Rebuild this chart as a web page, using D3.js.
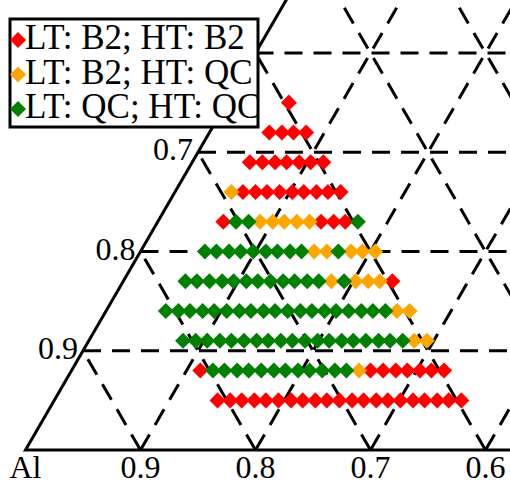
<!DOCTYPE html>
<html>
<head>
<meta charset="utf-8">
<script src="https://cdn.jsdelivr.net/npm/d3@7"></script>
<style>
  body { margin: 0; background: #fff; }
  svg { display: block; }
  text { font-family: "Liberation Serif", "Times New Roman", serif; }
</style>
</head>
<body>
<div id="chart"></div>
<script>
// chart size
var width = 510;
var height = 482;

// Al content of the sampled compositions (shared by every row)
var alValues = [0.808, 0.797, 0.787, 0.776, 0.766, 0.755, 0.744, 0.734, 0.723, 0.713, 0.702,
                0.691, 0.681, 0.670, 0.660, 0.649, 0.638, 0.628, 0.617, 0.607, 0.596];
// third element fraction of each row
var thirdValues = [0.05, 0.08, 0.11, 0.14, 0.17, 0.20, 0.23, 0.26, 0.29, 0.32, 0.35];
// phase class per row and Al value (R = B2/B2, O = B2/QC, G = QC/QC, . = none)
var phaseRows = [
  "RRRRRRRRRRRRRRRRRRRRR",
  "RGGGGGGGGGGGGORRRRRRR",
  "GGGGGGGGGGGGGGGGGGGOO",
  "GGGGGGGGGGGGGGGGGGGOO",
  "...GGGGGGGGGGGGOGOOOR",
  "......GGGGGGGGGOOGOOO",
  ".........RGGOOOOORRRG",
  "...........ORRRRRRRRR",
  "..............RRRRRRR",
  ".................RRRR",
  "....................R"
];
var seriesCodes = ["R", "O", "G"];
var seriesNames = ["LT: B2; HT: B2", "LT: B2; HT: QC", "LT: QC; HT: QC"];
var seriesColors = ["#ff0000", "#ffa500", "#008000"];

// grid / tick values
var gridValues = [0.1, 0.2, 0.3, 0.4, 0.5, 0.6, 0.7, 0.8, 0.9];
var bottomTicks = [0.9, 0.8, 0.7, 0.6];
var leftTicks = [0.9, 0.8, 0.7];

// ternary -> cartesian scales (u = b + c/2, along bottom ; c = height)
var x = d3.scaleLinear().domain([0, 1]).range([25.5, 25.5 + 1150]);
var y = d3.scaleLinear().domain([0, 1]).range([450, 450 - 992.5]);

function px(b, c) { return x(b + c / 2); }
function py(c) { return y(c); }

var svg = d3.select('#chart')
  .append('svg')
  .attr('width', width)
  .attr('height', height);

// dashed grid
var gridLines = [];
gridValues.forEach(function(v) {
  gridLines.push([[0, v], [1 - v, v]]);   // constant third element
  gridLines.push([[v, 0], [v, 1 - v]]);   // constant second element
  gridLines.push([[v, 0], [0, v]]);       // constant Al
});

svg.append('g')
  .selectAll('line')
  .data(gridLines)
  .enter()
  .append('line')
    .attr('x1', function(d) { return px(d[0][0], d[0][1]); })
    .attr('y1', function(d) { return py(d[0][1]); })
    .attr('x2', function(d) { return px(d[1][0], d[1][1]); })
    .attr('y2', function(d) { return py(d[1][1]); })
    .attr('stroke', '#000')
    .attr('stroke-width', 3)
    .attr('stroke-dasharray', '18,11');

// triangle edges
svg.append('path')
  .attr('d', d3.line()([[px(0, 1), py(1)], [px(0, 0), py(0)], [px(1, 0), py(0)]]))
  .attr('fill', 'none')
  .attr('stroke', '#000')
  .attr('stroke-width', 3);

// points
var points = [];
phaseRows.forEach(function(row, i) {
  var c = thirdValues[i];
  for (var k = 0; k < row.length; k++) {
    var code = row.charAt(k);
    if (code === '.') continue;
    var a = alValues[k];
    points.push({ a: a, c: c, b: 1 - a - c, s: seriesCodes.indexOf(code) });
  }
});
points.sort(function(p, q) { return p.s - q.s; });

var diamond = d3.symbol().type(d3.symbolSquare).size(128);

svg.append('g')
  .selectAll('path')
  .data(points)
  .enter()
  .append('path')
    .attr('d', diamond)
    .attr('transform', function(d) {
      return 'translate(' + px(d.b, d.c) + ',' + py(d.c) + ') rotate(45)';
    })
    .attr('fill', function(d) { return seriesColors[d.s]; });

// tick labels
svg.append('g')
  .selectAll('text')
  .data(bottomTicks)
  .enter()
  .append('text')
    .attr('x', function(d) { return px(1 - d, 0); })
    .attr('y', 478)
    .attr('text-anchor', 'middle')
    .attr('font-size', '32px')
    .text(function(d) { return d.toFixed(1); });

svg.append('text')
  .attr('x', px(0, 0))
  .attr('y', 478)
  .attr('text-anchor', 'middle')
  .attr('font-size', '32px')
  .text('Al');

svg.append('g')
  .selectAll('text')
  .data(leftTicks)
  .enter()
  .append('text')
    .attr('x', function(d) { return px(0, 1 - d) - 5; })
    .attr('y', function(d) { return py(1 - d) + 8; })
    .attr('text-anchor', 'end')
    .attr('font-size', '32px')
    .text(function(d) { return d.toFixed(1); });

// legend
var legend = svg.append('g');
legend.append('rect')
  .attr('x', 10)
  .attr('y', 19)
  .attr('width', 248)
  .attr('height', 108)
  .attr('fill', '#fff')
  .attr('stroke', '#000')
  .attr('stroke-width', 3);

var legendItems = legend.selectAll('g.item')
  .data(seriesNames)
  .enter()
  .append('g')
    .attr('class', 'item')
    .attr('transform', function(d, i) { return 'translate(0,' + (40 + i * 34.5) + ')'; });

legendItems.append('path')
  .attr('d', diamond)
  .attr('transform', 'translate(18,0) rotate(45)')
  .attr('fill', function(d, i) { return seriesColors[i]; });

legendItems.append('text')
  .attr('x', 25)
  .attr('y', 9)
  .attr('font-size', '35px')
  .text(function(d) { return d; });
</script>
</body>
</html>
